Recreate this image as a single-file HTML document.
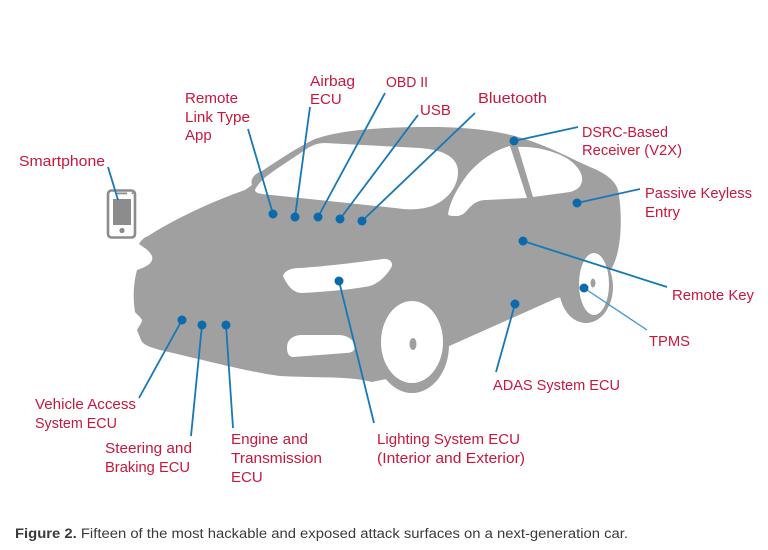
<!DOCTYPE html>
<html>
<head>
<meta charset="utf-8">
<style>
html,body{margin:0;padding:0;background:#fff;}
body{width:768px;height:550px;overflow:hidden;}
svg{display:block;}
.l{font-family:"Liberation Sans",Arial,sans-serif;font-size:15px;fill:#c8173d;}
.c{font-family:"Liberation Sans",Arial,sans-serif;font-size:13.5px;fill:#3a3a3a;}
.ln{stroke:#1678b6;stroke-width:1.8;fill:none;}
.d{fill:#0a6aab;}
</style>
</head>
<body>
<svg width="768" height="550" viewBox="0 0 768 550" xmlns="http://www.w3.org/2000/svg">
<rect width="768" height="550" fill="#fff"/>

<!-- car body -->
<g fill="#a0a0a0">
  <ellipse cx="412" cy="345" rx="37" ry="48"/>
  <ellipse cx="586" cy="287" rx="27" ry="36"/>
  <path d="M148,236
    C170,222 205,204 245,190
    L252,185 C250,179 254,174 262,171
    C280,159 298,147 315,139
    C340,130 380,127 430,127
    C470,127 500,131 525,139
    C550,147 570,158 590,167
    C605,173 615,180 618,190
    C622,210 622,240 616,258
    C614,265 611,270 606,276
    L600,292 L557,298 L447,347
    L420,372 L372,382
    C350,376 320,378 280,376
    C250,372 220,364 160,350
    C150,347 143,345 141,340
    L137,330 C139,326 142,323 142,320
    C140,316 136,314 135,312
    C133,300 133,285 137,270
    C146,267 154,263 152,256
    C149,250 143,247 139,244
    C141,240 145,237 148,236 Z"/>
</g>

<!-- windows & lights (white) -->
<g fill="#fff">
  <path d="M255,190 C258,183 265,177 275,170 L305,150 C312,145 318,143 325,143 L420,148 C445,150 458,158 458,172 C458,186 448,200 432,206 C420,210 408,210 395,208 L262,194 C257,193 255,192 255,190 Z"/>
  <path d="M448,214 C450,202 457,188 468,174 C480,160 495,150 510,146 L527,198 L486,200 C479,200 474,203 469,208 C466,212 463,215 458,216 C452,216 448,216 448,214 Z"/>
  <path d="M518,147 C535,146 555,151 568,159 C578,166 583,174 582,181 C581,187 577,190 570,192 L533,197 Z"/>
  <path d="M283,276 C285,270 292,268 300,268 C330,266 360,262 383,259 C390,258 394,263 391,268 C386,276 379,283 370,286 C350,290 320,292 302,293 C293,293 287,285 283,276 Z"/>
  <path d="M287,348 C287,340 292,336 300,335 L340,335 C350,336 355,342 355,347 C355,351 351,353 346,353 L293,357 C289,357 287,353 287,348 Z"/>
  <ellipse cx="412" cy="342" rx="31" ry="41"/>
  <ellipse cx="594" cy="284" rx="15" ry="31"/>
</g>
<ellipse cx="413" cy="344" rx="3.5" ry="6" fill="#a0a0a0"/>
<ellipse cx="593" cy="283" rx="2.5" ry="4.5" fill="#a0a0a0"/>

<!-- smartphone -->
<rect x="108" y="190.5" width="27" height="47" rx="3.5" fill="#fff" stroke="#8c8c8c" stroke-width="2.6"/>
<rect x="113" y="199" width="18" height="26" fill="#8c8c8c"/>
<rect x="117" y="192.5" width="10" height="1.8" fill="#8c8c8c"/>
<circle cx="132.5" cy="193.3" r="1" fill="#8c8c8c"/>
<circle cx="122" cy="230.5" r="2.6" fill="#8c8c8c"/>

<!-- connector lines -->
<g class="ln">
  <line x1="108" y1="167" x2="118" y2="200"/>
  <line x1="248" y1="129" x2="273" y2="214"/>
  <line x1="310" y1="107" x2="295" y2="217"/>
  <line x1="385" y1="93" x2="318" y2="217"/>
  <line x1="418" y1="115" x2="340" y2="219"/>
  <line x1="475" y1="113" x2="362" y2="221"/>
  <line x1="578" y1="127" x2="514" y2="141"/>
  <line x1="640" y1="189" x2="577" y2="203"/>
  <line x1="667" y1="287" x2="523" y2="241"/>
  <line x1="496" y1="372" x2="515" y2="304"/>
  <line x1="374" y1="423" x2="339" y2="281"/>
  <line x1="139" y1="398" x2="182" y2="320"/>
  <line x1="191" y1="436" x2="202" y2="325"/>
  <line x1="233" y1="428" x2="226" y2="325"/>
</g>
<line x1="647" y1="330" x2="584" y2="288" stroke="#3b98d6" stroke-width="1.3"/>

<!-- dots -->
<g class="d">
  <circle cx="273" cy="214" r="4.5"/>
  <circle cx="295" cy="217" r="4.5"/>
  <circle cx="318" cy="217" r="4.5"/>
  <circle cx="340" cy="219" r="4.5"/>
  <circle cx="362" cy="221" r="4.5"/>
  <circle cx="514" cy="141" r="4.5"/>
  <circle cx="577" cy="203" r="4.5"/>
  <circle cx="523" cy="241" r="4.5"/>
  <circle cx="584" cy="288" r="4.5"/>
  <circle cx="515" cy="304" r="4.5"/>
  <circle cx="339" cy="281" r="4.5"/>
  <circle cx="182" cy="320" r="4.5"/>
  <circle cx="202" cy="325" r="4.5"/>
  <circle cx="226" cy="325" r="4.5"/>
</g>

<!-- labels -->
<g class="l">
  <text x="19" y="166" textLength="86" lengthAdjust="spacingAndGlyphs">Smartphone</text>
  <text x="185" y="103" textLength="53" lengthAdjust="spacingAndGlyphs">Remote</text>
  <text x="185" y="122" textLength="65" lengthAdjust="spacingAndGlyphs">Link Type</text>
  <text x="185" y="140">App</text>
  <text x="310" y="86" textLength="45" lengthAdjust="spacingAndGlyphs">Airbag</text>
  <text x="310" y="104">ECU</text>
  <text x="386" y="87" textLength="42" lengthAdjust="spacingAndGlyphs">OBD II</text>
  <text x="420" y="115">USB</text>
  <text x="478" y="103" textLength="69" lengthAdjust="spacingAndGlyphs">Bluetooth</text>
  <text x="582" y="137" textLength="86" lengthAdjust="spacingAndGlyphs">DSRC-Based</text>
  <text x="582" y="155" textLength="100" lengthAdjust="spacingAndGlyphs">Receiver (V2X)</text>
  <text x="645" y="198" textLength="107" lengthAdjust="spacingAndGlyphs">Passive Keyless</text>
  <text x="645" y="217">Entry</text>
  <text x="672" y="300" textLength="82" lengthAdjust="spacingAndGlyphs">Remote Key</text>
  <text x="649" y="346" textLength="41" lengthAdjust="spacingAndGlyphs">TPMS</text>
  <text x="493" y="390" textLength="127" lengthAdjust="spacingAndGlyphs">ADAS System ECU</text>
  <text x="35" y="409" textLength="101" lengthAdjust="spacingAndGlyphs">Vehicle Access</text>
  <text x="35" y="428" textLength="82" lengthAdjust="spacingAndGlyphs">System ECU</text>
  <text x="105" y="453" textLength="87" lengthAdjust="spacingAndGlyphs">Steering and</text>
  <text x="105" y="472" textLength="85" lengthAdjust="spacingAndGlyphs">Braking ECU</text>
  <text x="231" y="444" textLength="77" lengthAdjust="spacingAndGlyphs">Engine and</text>
  <text x="231" y="463" textLength="91" lengthAdjust="spacingAndGlyphs">Transmission</text>
  <text x="231" y="482">ECU</text>
  <text x="377" y="444" textLength="143" lengthAdjust="spacingAndGlyphs">Lighting System ECU</text>
  <text x="377" y="463" textLength="148" lengthAdjust="spacingAndGlyphs">(Interior and Exterior)</text>
</g>

<!-- caption -->
<text class="c" x="15" y="538" textLength="613" lengthAdjust="spacingAndGlyphs"><tspan font-weight="bold">Figure 2.</tspan> Fifteen of the most hackable and exposed attack surfaces on a next-generation car.</text>
</svg>
</body>
</html>
